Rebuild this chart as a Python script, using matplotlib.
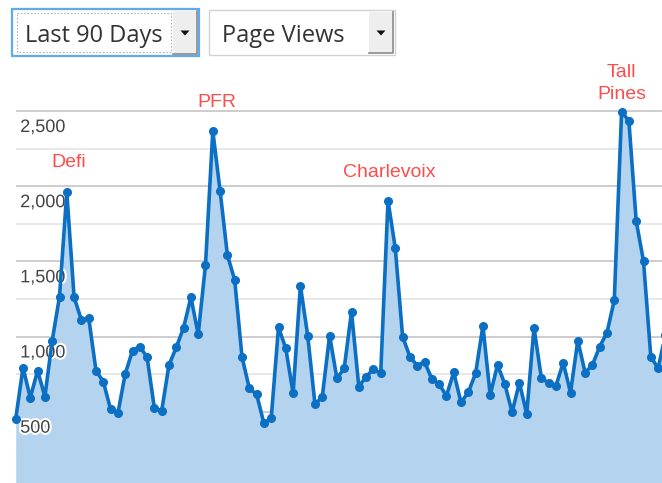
import matplotlib
matplotlib.use('Agg')
import matplotlib.pyplot as plt
import matplotlib.patches as patches
import matplotlib.patheffects as pe
import numpy as np

# daily page views, last 90 days
views = [451, 793, 593, 773, 600, 972, 1265, 1959, 1261, 1110,
         1125, 773, 700, 516, 489, 751, 906, 933, 862, 522,
         507, 811, 928, 1059, 1261, 1015, 1476, 2367, 1968, 1542,
         1376, 864, 655, 616, 423, 456, 1061, 921, 622, 1338,
         1006, 549, 600, 1006, 722, 788, 1165, 667, 733, 782,
         755, 1904, 1587, 999, 866, 806, 833, 718, 684, 605,
         762, 562, 629, 755, 1070, 611, 811, 684, 496, 693,
         485, 1059, 726, 689, 671, 826, 627, 972, 760, 811,
         933, 1026, 1243, 2496, 2433, 1768, 1502, 866, 788, 1010]

# annotated peaks: label, day index
peak_labels = ['Defi', 'PFR', 'Charlevoix', 'Tall\nPines']
peak_days = [7, 27, 51, 83]

y_ticks = [500, 1000, 1500, 2000, 2500]
y_tick_labels = ['500', '1,000', '1,500', '2,000', '2,500']

range_choice = 'Last 90 Days'
metric_choice = 'Page Views'

W, H = 662, 483
LINE = '#0b6fc3'
FILL = '#b4d3ee'
RED = '#ff4b4b'

fig = plt.figure(figsize=(W / 100, H / 100), dpi=100)
fig.patch.set_facecolor('white')

# chart area: first point at x=15.7px, 7.3px per day, 2,500 at y=111px
x0, step = 15.7, 7.30
top_px = 100
ax = fig.add_axes([x0 / W, 0, 1 - x0 / W, (H - top_px) / H])
px_per_unit = 75.17 / 500
y_low = 2500 - (H - 111) / px_per_unit
y_high = 2500 + (111 - top_px) / px_per_unit
ax.set_xlim(0, (W - x0) / step)
ax.set_ylim(y_low, y_high)
ax.axis('off')

days = np.arange(len(views))

for v in range(250, 2501, 250):
    ax.axhline(v, color='#c9c9c9' if v % 500 == 0 else '#e6e6e6', lw=1.3, zorder=1)

ax.fill_between(days, 0, views, color=FILL, lw=0, zorder=2)
ax.plot(days, views, color=LINE, lw=2.6, marker='o', ms=5.5, zorder=4, clip_on=False)

for v, lab in zip(y_ticks, y_tick_labels):
    ax.annotate(lab, xy=(0, v), xytext=(4.5, -8), textcoords='offset pixels',
                ha='left', va='top', fontsize=13, color='#444444',
                family='Liberation Sans', zorder=3,
                path_effects=[pe.withStroke(linewidth=3, foreground='white')])

# baseline of the last line sits dy pixels above the point
offsets = [(2, 25.7), (4.5, 24), (1, 23.7), (0, 12.7)]
for lab, d, (dx, dy) in zip(peak_labels, peak_days, offsets):
    ax.annotate(lab, xy=(d, views[d]), xytext=(dx, dy), textcoords='offset pixels',
                ha='center', va='baseline', fontsize=14, color=RED,
                family='Liberation Sans', linespacing=1.35, annotation_clip=False)

# dropdowns drawn in pixel coordinates
ui = fig.add_axes([0, 0, 1, 1])
ui.set_xlim(0, W)
ui.set_ylim(H, 0)
ui.axis('off')


def dropdown(x, y, w, h, text, focused):
    edge = '#62aae8' if focused else '#d2d2d2'
    ui.add_patch(patches.Rectangle((x, y), w, h, facecolor='white', edgecolor=edge,
                                   lw=1.6 if focused else 1.0))
    bx = x + w - 26
    ui.add_patch(patches.Rectangle((bx, y + 2), 24, h - 4, facecolor='#eeeeee',
                                   edgecolor='none'))
    ui.plot([bx + 24, bx + 24, bx], [y + 2, y + h - 2, y + h - 2], color='#8a8a8a', lw=1.2)
    cx, cy = bx + 12, y + h / 2
    ui.add_patch(patches.Polygon([(cx - 4.5, cy - 2), (cx + 4.5, cy - 2), (cx, cy + 3)],
                                 closed=True, facecolor='#111111', edgecolor='none'))
    if focused:
        ui.add_patch(patches.Rectangle((x + 5, y + 4), bx - x - 7, h - 8, facecolor='none',
                                       edgecolor='#b5b5b5', lw=0.8, ls=(0, (1.5, 1.5))))
    ui.text(x + 13, 42, text, ha='left', va='baseline', fontsize=17,
            color='#333333', family='Open Sans')


dropdown(12, 9, 187, 47, range_choice, True)
dropdown(209, 10, 186, 45, metric_choice, False)

fig.savefig('out.png', dpi=100)
